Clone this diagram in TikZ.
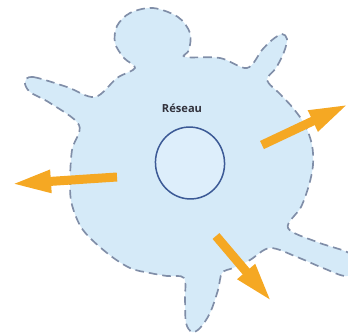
\documentclass[tikz,border=0pt]{standalone}
\definecolor{blobfill}{RGB}{213, 234, 248}
\definecolor{blobline}{RGB}{128, 142, 168}
\definecolor{corefill}{RGB}{221, 238, 251}
\definecolor{coreline}{RGB}{60, 90, 150}
\definecolor{flow}{RGB}{245, 168, 35}
\definecolor{darkgray}{RGB}{50, 50, 60}
\usepackage{fontspec}
\setsansfont{Open Sans}
\usepackage{tikz}
\usetikzlibrary{shapes.geometric, arrows.meta, positioning}
\tikzset{
    blob/.style={
        draw=blobline, fill=blobfill,
        dash pattern=on 0.26cm off 0.15cm, line width=0.05cm
    },
    core/.style={
        ellipse, draw=coreline, fill=corefill, line width=0.045cm,
        minimum width=2.07cm, minimum height=2.16cm, inner sep=0pt
    },
    flowarrow/.style={
        -{Triangle[length=1.2cm, width=0.62cm]},
        line width=0.27cm, color=flow
    },
    anno/.style={font=\sffamily\bfseries\fontsize{9.5}{10}\selectfont, text=darkgray}
}
\begin{document}
\begin{tikzpicture}[x=0.03cm, y=-0.03cm]
    \useasboundingbox (0,0) rectangle (348,335);

    % network outline with its limbs
    \draw[blob] plot[smooth cycle, tension=0.55] coordinates {
        (25,82) (33,77) (67,87) (95,97) (117,78) (135,68)
        (124,58) (115,43) (117,26) (130,13) (153,8) (178,17) (190,33) (189,50) (185,57)
        (220,58) (247,68)
        (262,50) (272,40) (282,34) (287,39) (284,52) (276,68) (267,80)
        (280,94) (293,108) (305,125) (312,145) (313,165) (309,185) (301,207) (288,228)
        (317,242) (347,252) (360,263) (347,276) (323,268) (297,257) (270,248)
        (250,260) (233,268) (222,273)
        (218,290) (210,313) (200,328) (192,332) (186,323) (185,300) (184,278)
        (167,276) (150,273) (130,268) (107,253) (83,230) (72,205) (70,183) (72,150) (79,125)
        (50,103) (30,92)
    };

    \node[core, rotate=10] (core) at (190,163) {};
    \node[anno] (title) at (182,108) {Réseau};

    % outgoing flows
    \coordinate (eastTail) at (262,145);
    \coordinate (eastTip) at (349,104);
    \coordinate (westTail) at (117,177);
    \coordinate (westTip) at (11,184);
    \coordinate (southTail) at (216,236);
    \coordinate (southTip) at (272,302);

    \draw[flowarrow] (eastTail) -- (eastTip);
    \draw[flowarrow] (westTail) -- (westTip);
    \draw[flowarrow] (southTail) -- (southTip);
\end{tikzpicture}
\end{document}
